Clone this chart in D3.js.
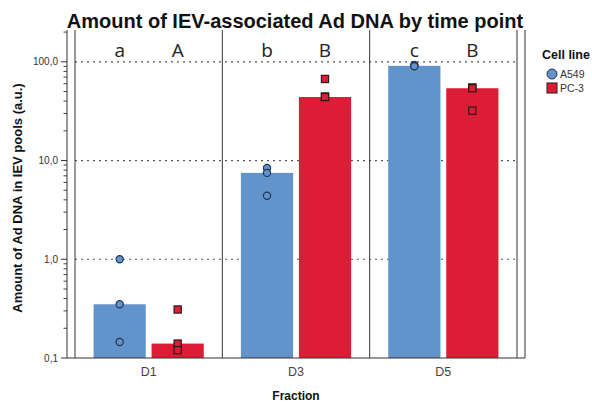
<!DOCTYPE html>
<html>
<head>
<meta charset="utf-8">
<script src="https://cdn.jsdelivr.net/npm/d3@7"></script>
<style>
  body { margin: 0; background: #fff; }
  text { font-family: "Liberation Sans", Arial, sans-serif; }
</style>
</head>
<body>
<svg id="chart" width="592" height="403"></svg>
<script>
// data
var categories = ["D1", "D3", "D5"];
var series = ["A549", "PC-3"];
var a549Bars = [0.35, 7.5, 91];
var pc3Bars = [0.14, 44, 54];
var a549Points = [[1.0, 0.35, 0.145], [8.4, 7.5, 4.4], [93, 91, 90]];
var pc3Points = [[0.31, 0.14, 0.12], [67, 44.5, 44], [55, 54, 32]];
var a549Letters = ["a", "b", "c"];
var pc3Letters = ["A", "B", "B"];
var yTicks = [0.1, 1, 10, 100];
var yTickLabels = ["0,1", "1,0", "10,0", "100,0"];

var colors = {"A549": "#6393cb", "PC-3": "#dd1c35"};
var strokes = {"A549": "#1e3550", "PC-3": "#2a1a1a"};

var svg = d3.select("#chart");
var plotLeft = 67, plotInner = 75, plotRight = 517, plotOuter = 525, plotTop = 30, plotBottom = 358;

var x = d3.scaleBand().domain(categories).range([plotInner, plotRight]);
var xs = d3.scaleBand().domain(series).range([0, x.bandwidth()])
    .paddingInner(0.1).paddingOuter(0.32);
var y = d3.scaleLog().domain([0.1, 210]).range([plotBottom, plotTop]);

var bars = [], points = [], letters = [];
categories.forEach(function(c, i) {
  bars.push({cat: c, s: "A549", v: a549Bars[i]});
  bars.push({cat: c, s: "PC-3", v: pc3Bars[i]});
  letters.push({cat: c, s: "A549", t: a549Letters[i]});
  letters.push({cat: c, s: "PC-3", t: pc3Letters[i]});
  a549Points[i].forEach(function(v) { points.push({cat: c, s: "A549", v: v}); });
  pc3Points[i].forEach(function(v) { points.push({cat: c, s: "PC-3", v: v}); });
});

// title
svg.append("text")
    .attr("x", 295).attr("y", 28)
    .attr("text-anchor", "middle")
    .style("font-size", "20px").style("font-weight", "bold")
    .attr("fill", "#111")
    .text("Amount of IEV-associated Ad DNA by time point");

// gridlines
svg.append("g").selectAll("line")
    .data([1, 10, 100])
    .enter().append("line")
    .attr("x1", plotInner).attr("x2", plotRight)
    .attr("y1", function(d) { return y(d); })
    .attr("y2", function(d) { return y(d); })
    .attr("stroke", "#555").attr("stroke-width", 1.2)
    .attr("stroke-dasharray", "2,4");

// bars
svg.append("g").selectAll("rect")
    .data(bars)
    .enter().append("rect")
    .attr("x", function(d) { return x(d.cat) + xs(d.s); })
    .attr("y", function(d) { return y(d.v); })
    .attr("width", xs.bandwidth())
    .attr("height", function(d) { return plotBottom - y(d.v); })
    .attr("fill", function(d) { return colors[d.s]; });

// panel lines
svg.append("g").selectAll("line")
    .data(categories.map(function(c) { return x(c); }).concat([plotRight, plotOuter]))
    .enter().append("line")
    .attr("x1", function(d) { return d; }).attr("x2", function(d) { return d; })
    .attr("y1", plotTop).attr("y2", plotBottom)
    .attr("stroke", "#333").attr("stroke-width", 1);

svg.append("line")
    .attr("x1", plotLeft).attr("x2", plotOuter)
    .attr("y1", plotBottom).attr("y2", plotBottom)
    .attr("stroke", "#333");

// points
var pts = svg.append("g");
pts.selectAll("circle")
    .data(points.filter(function(d) { return d.s == "A549"; }))
    .enter().append("circle")
    .attr("cx", function(d) { return x(d.cat) + xs(d.s) + xs.bandwidth() / 2; })
    .attr("cy", function(d) { return y(d.v); })
    .attr("r", 3.6)
    .attr("fill", colors["A549"])
    .attr("stroke", strokes["A549"]).attr("stroke-width", 1.2);
pts.selectAll("rect")
    .data(points.filter(function(d) { return d.s == "PC-3"; }))
    .enter().append("rect")
    .attr("x", function(d) { return x(d.cat) + xs(d.s) + xs.bandwidth() / 2 - 3.6; })
    .attr("y", function(d) { return y(d.v) - 3.6; })
    .attr("width", 7.2).attr("height", 7.2)
    .attr("fill", colors["PC-3"])
    .attr("stroke", strokes["PC-3"]).attr("stroke-width", 1.2);

// letters
svg.append("g").selectAll("text")
    .data(letters)
    .enter().append("text")
    .attr("x", function(d) { return x(d.cat) + xs(d.s) + xs.bandwidth() / 2; })
    .attr("y", 57)
    .attr("text-anchor", "middle")
    .style("font-family", "'Open Sans', sans-serif")
    .style("font-size", "19px")
    .attr("fill", "#222")
    .text(function(d) { return d.t; });

// y axis
var minor = [];
[0.1, 1, 10, 100].forEach(function(p) {
  for (var k = 2; k <= 9; k++) { if (p * k <= 210) minor.push(p * k); }
});
var yAxis = svg.append("g").attr("transform", "translate(" + plotLeft + ",0)");
yAxis.append("line").attr("y1", plotTop).attr("y2", plotBottom).attr("stroke", "#333");
yAxis.selectAll(".minor").data(minor).enter().append("line")
    .attr("class", "minor")
    .attr("x1", -3.5).attr("x2", 0)
    .attr("y1", function(d) { return y(d); }).attr("y2", function(d) { return y(d); })
    .attr("stroke", "#444");
yAxis.selectAll(".major").data(yTicks).enter().append("line")
    .attr("class", "major")
    .attr("x1", -6).attr("x2", 0)
    .attr("y1", function(d) { return y(d); }).attr("y2", function(d) { return y(d); })
    .attr("stroke", "#333");
yAxis.selectAll("text").data(yTicks).enter().append("text")
    .attr("x", -9)
    .attr("y", function(d) { return y(d); })
    .attr("dy", "0.35em")
    .attr("text-anchor", "end")
    .style("font-size", "10px")
    .attr("fill", "#333")
    .text(function(d, i) { return yTickLabels[i]; });

svg.append("text")
    .attr("transform", "translate(22," + 198 + ") rotate(-90)")
    .attr("text-anchor", "middle")
    .style("font-size", "13px").style("font-weight", "bold")
    .attr("fill", "#111")
    .text("Amount of Ad DNA in IEV pools (a.u.)");

// x axis labels
svg.append("g").selectAll("text")
    .data(categories)
    .enter().append("text")
    .attr("x", function(d) { return x(d) + x.bandwidth() / 2; })
    .attr("y", 376)
    .attr("text-anchor", "middle")
    .style("font-size", "12.5px")
    .attr("fill", "#444")
    .text(function(d) { return d; });

svg.append("text")
    .attr("x", 296).attr("y", 400)
    .attr("text-anchor", "middle")
    .style("font-size", "12px").style("font-weight", "bold")
    .attr("fill", "#111")
    .text("Fraction");

// legend
var legend = svg.append("g").attr("transform", "translate(542,0)");
legend.append("text")
    .attr("x", 0).attr("y", 59)
    .style("font-size", "12.5px").style("font-weight", "bold")
    .attr("fill", "#111")
    .text("Cell line");
legend.append("circle")
    .attr("cx", 10).attr("cy", 74).attr("r", 5)
    .attr("fill", colors["A549"]).attr("stroke", strokes["A549"]);
legend.append("rect")
    .attr("x", 5).attr("y", 83).attr("width", 10).attr("height", 10)
    .attr("fill", colors["PC-3"]).attr("stroke", strokes["PC-3"]);
legend.selectAll(".lab").data(series).enter().append("text")
    .attr("class", "lab")
    .attr("x", 18)
    .attr("y", function(d, i) { return 74 + i * 14; })
    .attr("dy", "0.35em")
    .style("font-size", "10.5px")
    .attr("fill", "#333")
    .text(function(d) { return d; });
</script>
</body>
</html>
